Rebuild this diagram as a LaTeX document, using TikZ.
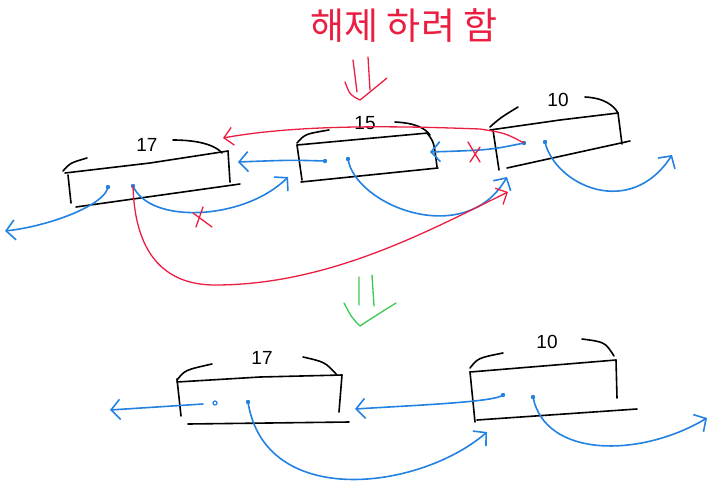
\documentclass[tikz,border=0pt]{standalone}
\usepackage{fontspec}
\setmainfont{Liberation Sans}
\newfontfamily\krfont{Noto Sans CJK KR}
\usepackage{tikz}
\usetikzlibrary{arrows.meta}
\definecolor{ptrblue}{RGB}{35,130,225}
\definecolor{cutred}{RGB}{235,30,65}
\definecolor{okgreen}{RGB}{60,200,80}

\begin{document}
\begin{tikzpicture}[x=1pt,y=-1pt,
  pen/.style={line width=1.6pt,line cap=round,line join=round},
  frame/.style={pen,black},
  ptr/.style={pen,ptrblue,-{Straight Barb[length=9pt,width=20pt]}},
  relink/.style={pen,cutred,line width=1.3pt,-{Straight Barb[length=9pt,width=18pt]}},
  cross/.style={pen,cutred,line width=1.3pt},
  val/.style={font=\fontsize{19}{19}\selectfont,inner sep=0pt},
  dot/.style={fill=ptrblue}
]
  \useasboundingbox (0,0) rectangle (720,488);

  % title
  \node[text=cutred,font=\krfont\fontsize{37}{37}\selectfont,inner sep=0pt] (title) at (404,26) {해제 하려 함};
  \draw[pen,cutred,line width=1.3pt] (353,60) -- (357,92) (368,57) -- (370,90);
  \draw[pen,cutred,line width=1.3pt] (345,82) .. controls (350,95) .. (360,100) .. controls (370,92) .. (387,78);

  % ---- before: 17 <-> 15 <-> 10
  \node[val] (n17) at (147,145) {17};
  \draw[frame] (65,173) -- (150,163) -- (228,151);
  \draw[frame] (68,175) -- (71,203);
  \draw[frame] (76,207) -- (240,184);
  \draw[frame] (228,151) -- (230,182);
  \draw[frame] (63,171) .. controls (70,163) .. (87,158);
  \draw[frame] (173,140) .. controls (205,140) and (218,148) .. (222,153);

  \node[val] (n15) at (365,123) {15};
  \draw[frame] (297,145) -- (428,133);
  \draw[frame] (297,145) -- (302,180);
  \draw[frame] (301,182) -- (438,168);
  \draw[frame] (427,133) .. controls (434,142) .. (437,167);
  \draw[frame] (297,143) .. controls (305,134) .. (329,130);
  \draw[frame] (395,122) .. controls (415,123) and (425,128) .. (430,135);

  \node[val] (n10) at (558,100) {10};
  \draw[frame] (490,130) -- (560,120) -- (618,113);
  \draw[frame] (493,130) -- (499,170);
  \draw[frame] (507,168) -- (630,141);
  \draw[frame] (618,113) -- (622,144);
  \draw[frame] (490,127) .. controls (500,118) .. (518,107);
  \draw[frame] (585,97) .. controls (605,98) and (614,106) .. (618,113);

  \coordinate (d17a) at (108,187);
  \coordinate (d17b) at (133,186);
  \coordinate (d15a) at (325,161);
  \coordinate (d15b) at (348,159);
  \coordinate (d10a) at (524,143);
  \coordinate (d10b) at (545,142);
  \coordinate (e17a) at (5,231);
  \coordinate (e17b) at (288,177);
  \coordinate (e15a) at (238,162);
  \coordinate (e15b) at (507,177);
  \coordinate (e10a) at (430,152);
  \coordinate (e10b) at (672,155);
  \coordinate (r17) at (223,138);
  \coordinate (r10) at (508,192);

  \foreach \d in {d17a,d17b,d15a,d15b,d10a,d10b}
    \fill[dot] (\d) circle (2.2pt);

  \draw[ptr] (d17a) .. controls (105,205) and (50,226) .. (e17a);
  \draw[ptr] (d17b) .. controls (150,225) and (245,220) .. (e17b);
  \draw[ptr] (d15a) .. controls (290,160) .. (e15a);
  \draw[ptr] (d15b) .. controls (355,205) and (465,250) .. (e15b);
  \draw[ptr] (d10a) .. controls (490,150) .. (e10a);
  \draw[ptr] (d10b) .. controls (555,185) and (630,220) .. (e10b);

  % new links
  \draw[relink] (d10a) .. controls (505,133) .. (480,129)
    .. controls (400,126) and (300,124) .. (r17);
  \draw[relink] (d17b) .. controls (135,260) and (170,285) .. (215,285)
    .. controls (330,285) and (430,230) .. (r10);

  \draw[cross] (203,207) -- (196,227) (193,213) -- (212,227);
  \draw[cross] (468,142) -- (480,162) (480,147) -- (470,162);

  % green down arrow
  \draw[pen,okgreen,line width=1.3pt] (359,277) -- (359,305) (372,275) -- (374,306);
  \draw[pen,okgreen,line width=1.3pt] (344,303) .. controls (352,318) .. (360,326) .. controls (372,318) .. (396,303);

  % ---- after: 17 <-> 10
  \node[val] (m17) at (262,358) {17};
  \draw[frame] (177,382) -- (260,377) -- (342,375);
  \draw[frame] (177,379) -- (181,416);
  \draw[frame] (188,424) -- (349,422);
  \draw[frame] (342,375) -- (339,412);
  \draw[frame] (177,380) .. controls (185,370) .. (212,364);
  \draw[frame] (303,357) .. controls (325,362) .. (337,375);

  \node[val] (m10) at (547,342) {10};
  \draw[frame] (470,372) -- (616,360);
  \draw[frame] (470,372) -- (475,422);
  \draw[frame] (477,420) -- (637,409);
  \draw[frame] (616,360) -- (617,398);
  \draw[frame] (470,368) .. controls (478,358) .. (503,353);
  \draw[frame] (582,339) .. controls (605,342) .. (614,356);

  \coordinate (c17a) at (215,403);
  \coordinate (c17b) at (248,402);
  \coordinate (c10a) at (503,395);
  \coordinate (c10b) at (533,397);
  \coordinate (f17a) at (110,410);
  \coordinate (f17b) at (487,432);
  \coordinate (f10a) at (355,409);
  \coordinate (f10b) at (707,418);

  \draw[pen,ptrblue,line width=1.2pt] (c17a) circle (2pt);
  \foreach \d in {c17b,c10a,c10b}
    \fill[dot] (\d) circle (2.2pt);

  \draw[ptr] (c17a) ++(-12,1) -- (f17a);
  \draw[ptr] (c17b) .. controls (265,510) and (420,490) .. (f17b);
  \draw[ptr] (c10a) .. controls (495,402) and (420,405) .. (f10a);
  \draw[ptr] (c10b) .. controls (545,458) and (640,458) .. (f10b);
\end{tikzpicture}
\end{document}
